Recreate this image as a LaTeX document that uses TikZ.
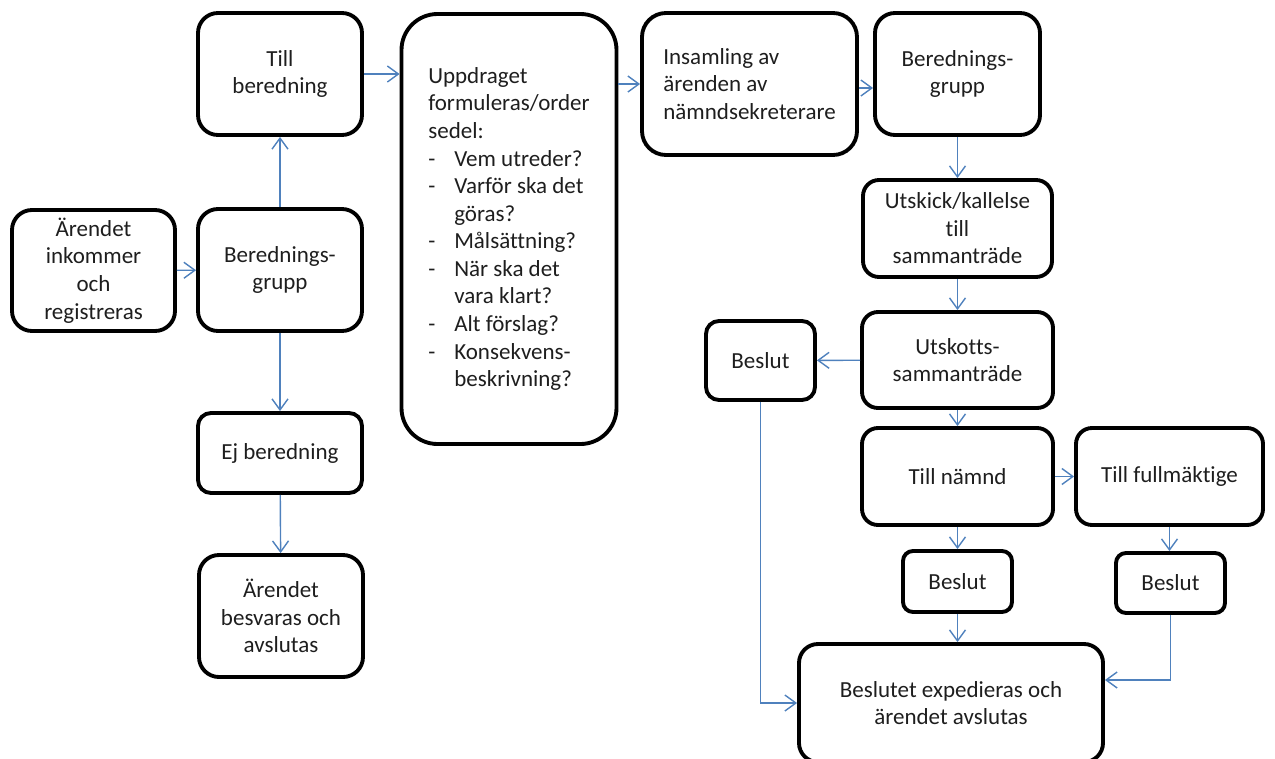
\documentclass[tikz,border=0pt]{standalone}
\usepackage{fontspec}
\setmainfont[Ligatures={NoCommon}]{Carlito}
\usetikzlibrary{arrows.meta}
\definecolor{arrowblue}{RGB}{79,129,189}
\definecolor{txt}{RGB}{30,30,30}
\newcommand\mydash{\makebox[0.52cm][l]{-}}
\newcommand\myind{\hspace*{0.52cm}}
\tikzset{
  bx/.style n args={3}{draw=black, line width=2.2pt, rounded corners=#3*0.02cm,
    minimum width=#1*0.02cm, minimum height=#2*0.02cm, align=center, inner sep=2pt,
    text=txt, font=\fontsize{13.1}{15.7}\selectfont},
  arr/.style={draw=arrowblue, line width=0.8pt, -{Straight Barb[length=0.22cm,width=0.32cm]}}
}
\begin{document}
\begin{tikzpicture}[x=0.02cm, y=-0.02cm]
\useasboundingbox (0,0) rectangle (1275,758);
% left column
\node[bx={163}{121}{20}] (A) at (93.5,270.5) {Ärendet\\inkommer\\och\\registreras};
\node[bx={164}{122}{20}] (B) at (280,270) {Berednings-\\grupp};
\node[bx={164}{122}{20}] (C) at (280,74) {Till\\beredning};
\node[bx={164}{80}{13}] (D) at (280,453) {Ej beredning};
\node[bx={164}{122}{20}] (E) at (281,616) {Ärendet\\besvaras och\\avslutas};
% middle
\node[bx={215}{430}{36}, align=left] (F) at (509,229) {Uppdraget\\formuleras/order\\sedel:\\\mydash Vem utreder?\\\mydash Varför ska det\\\myind göras?\\\mydash Målsättning?\\\mydash När ska det\\\myind vara klart?\\\mydash Alt förslag?\\\mydash Konsekvens-\\\myind beskrivning?};
\node[bx={215}{142}{24}, align=left] (G) at (749.5,84) {Insamling av\\ärenden av\\nämndsekreterare};
% right
\node[bx={165}{122}{20}] (H) at (957.5,74) {Berednings-\\grupp};
\node[bx={189}{97}{16}] (I) at (957.5,228.5) {Utskick/kallelse\\till\\sammanträde};
\node[bx={191}{96}{16}] (J) at (957.5,360) {Utskotts-\\sammanträde};
\node[bx={109}{79}{13}] (K) at (760.5,360.5) {Beslut};
\node[bx={191}{97}{16}] (L) at (957.5,476.5) {Till nämnd};
\node[bx={187}{97}{16}] (M) at (1169.5,476.5) {Till fullmäktige};
\node[bx={109}{61}{10}] (N) at (957.5,581.5) {Beslut};
\node[bx={109}{60}{10}] (O) at (1170.5,583) {Beslut};
\node[bx={304}{118}{19}] (P) at (951,703) {Beslutet expedieras och\\ärendet avslutas};
% connectors
\draw[arr] (A) -- (B);
\draw[arr] (B) -- (C);
\draw[arr] (B) -- (D);
\draw[arr] (D) -- (E);
\draw[arr] (C.east) -- (C.east -| F.west);
\draw[arr] (G.west -| F.east) -- (G.west);
\draw[arr] ([yshift=-0.08cm]G.east) -- ([yshift=-0.08cm]G.east -| H.west);
\draw[arr] (H) -- (I);
\draw[arr] (I) -- (J);
\draw[arr] (J) -- (K);
\draw[arr] (J) -- (L);
\draw[arr] (L) -- (M);
\draw[arr] (L) -- (N);
\draw[arr] (M.south) -- (M.south |- O.north);
\draw[arr] (N.south) -- (N.south |- P.north);
\draw[arr] (K.south) |- (P.west);
\draw[arr] (O.south) |- ([yshift=0.46cm]P.east);
\end{tikzpicture}
\end{document}
